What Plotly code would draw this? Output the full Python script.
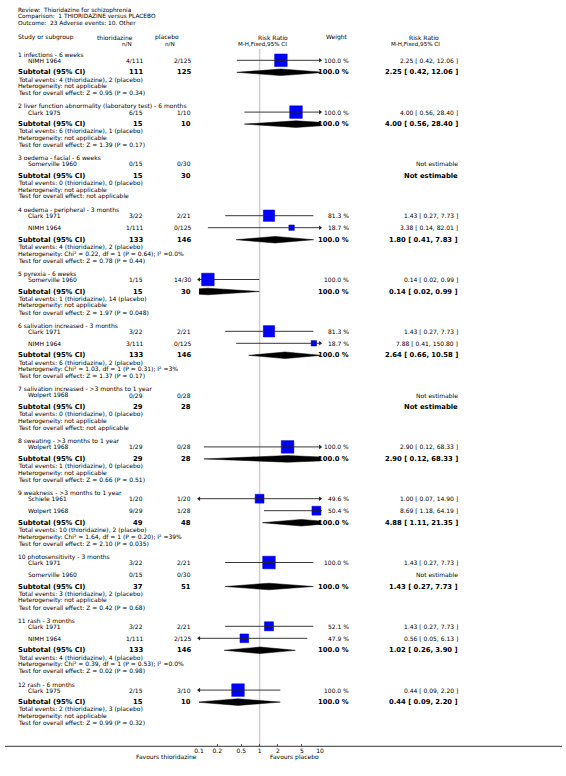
import plotly.graph_objects as go

W, H = 566, 776
FONT = "DejaVu Sans"

# ---------------- data ----------------
header_lines = ["Review:  Thioridazine for schizophrenia",
                "Comparison:  1 THIORIDAZINE versus PLACEBO",
                "Outcome:  23 Adverse events: 10. Other"]

section_titles = [
    "1 infections - 6 weeks",
    "2 liver function abnormality (laboratory test) - 6 months",
    "3 oedema - facial - 6 weeks",
    "4 oedema - peripheral - 3 months",
    "5 pyrexia - 6 weeks",
    "6 salivation increased - 3 months",
    "7 salivation increased - >3 months to 1 year",
    "8 sweating - >3 months to 1 year",
    "9 weakness - >3 months to 1 year",
    "10 photosensitivity - 3 months",
    "11 rash - 3 months",
    "12 rash - 6 months",
]
study_names = [["NIMH 1964"], ["Clark 1975"], ["Somerville 1960"], ["Clark 1971", "NIMH 1964"],
               ["Somerville 1960"], ["Clark 1971", "NIMH 1964"], ["Wolpert 1968"], ["Wolpert 1968"],
               ["Schiele 1961", "Wolpert 1968"], ["Clark 1971", "Somerville 1960"],
               ["Clark 1971", "NIMH 1964"], ["Clark 1975"]]
study_thio = [["4/111"], ["6/15"], ["0/15"], ["3/22", "1/111"], ["1/15"], ["3/22", "3/111"], ["0/29"],
              ["1/29"], ["1/20", "9/29"], ["3/22", "0/15"], ["3/22", "1/111"], ["2/15"]]
study_plac = [["2/125"], ["1/10"], ["0/30"], ["2/21", "0/125"], ["14/30"], ["2/21", "0/125"], ["0/28"],
              ["0/28"], ["1/20", "1/28"], ["2/21", "0/30"], ["2/21", "2/125"], ["3/10"]]
study_rr = [[2.25], [4.00], [None], [1.43, 3.38], [0.14], [1.43, 7.88], [None], [2.90], [1.00, 8.69],
            [1.43, None], [1.43, 0.56], [0.44]]
study_lo = [[0.42], [0.56], [None], [0.27, 0.14], [0.02], [0.27, 0.41], [None], [0.12], [0.07, 1.18],
            [0.27, None], [0.27, 0.05], [0.09]]
study_hi = [[12.06], [28.40], [None], [7.73, 82.01], [0.99], [7.73, 150.80], [None], [68.33],
            [14.90, 64.19], [7.73, None], [7.73, 6.13], [2.20]]
study_weight = [[100.0], [100.0], [None], [81.3, 18.7], [100.0], [81.3, 18.7], [None], [100.0],
                [49.6, 50.4], [100.0, None], [52.1, 47.9], [100.0]]

sub_thio_n = [111, 15, 15, 133, 15, 133, 29, 29, 49, 37, 133, 15]
sub_plac_n = [125, 10, 30, 146, 30, 146, 28, 28, 48, 51, 146, 10]
sub_rr = [2.25, 4.00, None, 1.80, 0.14, 2.64, None, 2.90, 4.88, 1.43, 1.02, 0.44]
sub_lo = [0.42, 0.56, None, 0.41, 0.02, 0.66, None, 0.12, 1.11, 0.27, 0.26, 0.09]
sub_hi = [12.06, 28.40, None, 7.83, 0.99, 10.58, None, 68.33, 21.35, 7.73, 3.90, 2.20]
events_thio = [4, 6, 0, 4, 1, 6, 0, 1, 10, 3, 4, 2]
events_plac = [2, 1, 0, 2, 14, 2, 0, 0, 2, 2, 4, 3]
het_chi2 = [None, None, None, 0.22, None, 1.03, None, None, 1.64, None, 0.39, None]
het_df = [None, None, None, 1, None, 1, None, None, 1, None, 1, None]
het_p = [None, None, None, "0.64", None, "0.31", None, None, "0.20", None, "0.53", None]
het_i2 = [None, None, None, "0.0%", None, "3%", None, None, "39%", None, "0.0%", None]
z_vals = ["0.95", "1.39", None, "0.78", "1.97", "1.37", None, "0.66", "2.10", "0.42", "0.02", "0.99"]
z_p = ["0.34", "0.17", None, "0.44", "0.048", "0.17", None, "0.51", "0.035", "0.68", "0.98", "0.32"]

tick_vals = [0.1, 0.2, 0.5, 1, 2, 5, 10]
tick_text = ["0.1", "0.2", "0.5", "1", "2", "5", "10"]

# ---------------- layout helpers ----------------
X_LO_PX, X_HI_PX = 197.2, 320.2     # pixel positions of 0.1 and 10
AXIS_Y = 746.3
FIRST_HEADER_Y = 54.3
S_HEADER_TO_STUDY = 6.0
S_STUDY = 12.0
S_TO_SUB = 12.0
S_SUB_TO_TOT = 7.3
S_LINE = 6.6
S_TO_NEXT = 13.3
REG = 6.0
BOLD = 6.8

ann = []


def txt(xpx, y, s, anchor="left", size=REG, bold=False, color="black"):
    ann.append(dict(x=xpx / W, y=y, xref="paper", yref="y",
                    text=("<b>%s</b>" % s) if bold else s, showarrow=False,
                    xanchor=anchor, yanchor="middle", borderpad=0,
                    font=dict(size=size, family=FONT, color=color)))


def rr_str(r, lo, hi):
    return "%.2f [ %.2f, %.2f ]" % (r, lo, hi)


# header block
for i, line in enumerate(header_lines):
    txt(12, 10 + 6.5 * i, line, size=5.8)
H1, H2 = 37.2, 43.9
txt(12, H1, "Study or subgroup")
txt(131, H1, "thioridazine", anchor="right")
txt(130.5, H2, "n/N", anchor="right", size=5.6)
txt(178, H1, "placebo", anchor="right")
txt(173.5, H2, "n/N", anchor="right", size=5.6)
txt(289, H1, "Risk Ratio", anchor="right")
txt(287.5, H2, "M-H,Fixed,95% CI", anchor="right", size=5.6)
txt(325, H1, "Weight")
txt(442.5, H1, "Risk Ratio", anchor="right")
txt(443.5, H2, "M-H,Fixed,95% CI", anchor="right", size=5.6)

COL_T, COL_P, COL_W, COL_RR = 141.5, 190.5, 350.5, 461.5

sq_x, sq_y, sq_s = [], [], []
ci_lines = []
arr_x, arr_y, arr_sym = [], [], []
diamonds = []

y = FIRST_HEADER_Y
for k, title in enumerate(section_titles):
    txt(12, y, title)
    ys = y + S_HEADER_TO_STUDY
    for j, name in enumerate(study_names[k]):
        txt(22, ys, name)
        txt(COL_T, ys, study_thio[k][j], anchor="right")
        txt(COL_P, ys, study_plac[k][j], anchor="right")
        r = study_rr[k][j]
        if r is None:
            txt(COL_RR, ys, "Not estimable", anchor="right")
        else:
            lo, hi, w = study_lo[k][j], study_hi[k][j], study_weight[k][j]
            txt(COL_W, ys, "%.1f %%" % w, anchor="right")
            txt(COL_RR, ys, rr_str(r, lo, hi), anchor="right")
            ci_lines.append((lo, hi, ys))
            sq_x.append(r); sq_y.append(ys); sq_s.append(12.6 * (w / 100.0) ** 0.5)
            if lo < tick_vals[0]:
                arr_x.append(tick_vals[0]); arr_y.append(ys); arr_sym.append("triangle-left")
            if hi > tick_vals[-1]:
                arr_x.append(tick_vals[-1]); arr_y.append(ys); arr_sym.append("triangle-right")
        last = ys
        ys += S_STUDY
    ysub = last + S_TO_SUB
    txt(12, ysub, "Subtotal (95% CI)", size=BOLD, bold=True)
    txt(COL_T, ysub, str(sub_thio_n[k]), anchor="right", size=BOLD, bold=True)
    txt(COL_P, ysub, str(sub_plac_n[k]), anchor="right", size=BOLD, bold=True)
    if sub_rr[k] is None:
        txt(COL_RR, ysub, "Not estimable", anchor="right", size=BOLD, bold=True)
    else:
        txt(COL_W + 0.5, ysub, "100.0 %", anchor="right", size=BOLD, bold=True)
        txt(COL_RR, ysub, rr_str(sub_rr[k], sub_lo[k], sub_hi[k]), anchor="right", size=BOLD, bold=True)
        diamonds.append((sub_lo[k], sub_rr[k], sub_hi[k], ysub))
    yt = ysub + S_SUB_TO_TOT
    txt(12, yt, "Total events: %d (thioridazine), %d (placebo)" % (events_thio[k], events_plac[k]))
    if het_chi2[k] is None:
        het = "Heterogeneity: not applicable"
    else:
        het = "Heterogeneity: Chi² = %.2f, df = %d (P = %s); I² =%s" % (het_chi2[k], het_df[k], het_p[k], het_i2[k])
    txt(12, yt + S_LINE, het)
    if z_vals[k] is None:
        test = "Test for overall effect: not applicable"
    else:
        test = "Test for overall effect: Z = %s (P = %s)" % (z_vals[k], z_p[k])
    txt(12, yt + 2 * S_LINE, test)
    y = yt + 2 * S_LINE + S_TO_NEXT

# favours labels
txt(196.5, 756.8, "Favours thioridazine", anchor="right")
txt(320, 756.8, "Favours placebo", anchor="right")

fig = go.Figure()

# line of no effect
fig.add_trace(go.Scatter(x=[1, 1], y=[49, AXIS_Y], mode="lines",
                         line=dict(color="#d0d0d0", width=1.5), hoverinfo="skip"))
# diamonds
for lo, r, hi, yd in diamonds:
    h = 3.3
    fig.add_trace(go.Scatter(x=[lo, r, hi, r, lo], y=[yd, yd - h, yd, yd + h, yd],
                             mode="lines", fill="toself", fillcolor="black",
                             line=dict(color="black", width=0.5), hoverinfo="skip"))
# squares
fig.add_trace(go.Scatter(x=sq_x, y=sq_y, mode="markers", cliponaxis=False,
                         marker=dict(symbol="square", size=sq_s, color="#0000ff", opacity=1,
                                     line=dict(color="#0000b0", width=0.5)),
                         opacity=1, hoverinfo="skip"))
# CI lines
for lo, hi, yl in ci_lines:
    fig.add_trace(go.Scatter(x=[lo, hi], y=[yl, yl], mode="lines",
                             line=dict(color="#222222", width=0.9), hoverinfo="skip"))
# arrowheads
fig.add_trace(go.Scatter(x=arr_x, y=arr_y, mode="markers", cliponaxis=False,
                         marker=dict(symbol=arr_sym, size=4, color="#222222", opacity=1),
                         hoverinfo="skip"))

fig.update_layout(
    width=W, height=H, margin=dict(l=0, r=0, t=0, b=0),
    paper_bgcolor="white", plot_bgcolor="rgba(0,0,0,0)",
    showlegend=False, annotations=ann,
    xaxis=dict(type="log", range=[-1, 1], domain=[X_LO_PX / W, X_HI_PX / W],
               anchor="free", position=1 - AXIS_Y / H,
               tickvals=tick_vals, ticktext=tick_text, ticks="inside", ticklen=2,
               tickwidth=1, tickcolor="#555555", showgrid=False, zeroline=False,
               showline=False, tickfont=dict(size=REG, family=FONT, color="black")),
    yaxis=dict(range=[H, 0], domain=[0, 1], visible=False, showgrid=False, zeroline=False),
    shapes=[dict(type="line", xref="paper", yref="y", x0=0, x1=1, y0=AXIS_Y, y1=AXIS_Y,
                 line=dict(color="#333333", width=1))],
)

fig.write_html("out.html", config={"displayModeBar": False},
               post_script="document.body.style.margin='0';document.body.style.overflow='hidden';")
